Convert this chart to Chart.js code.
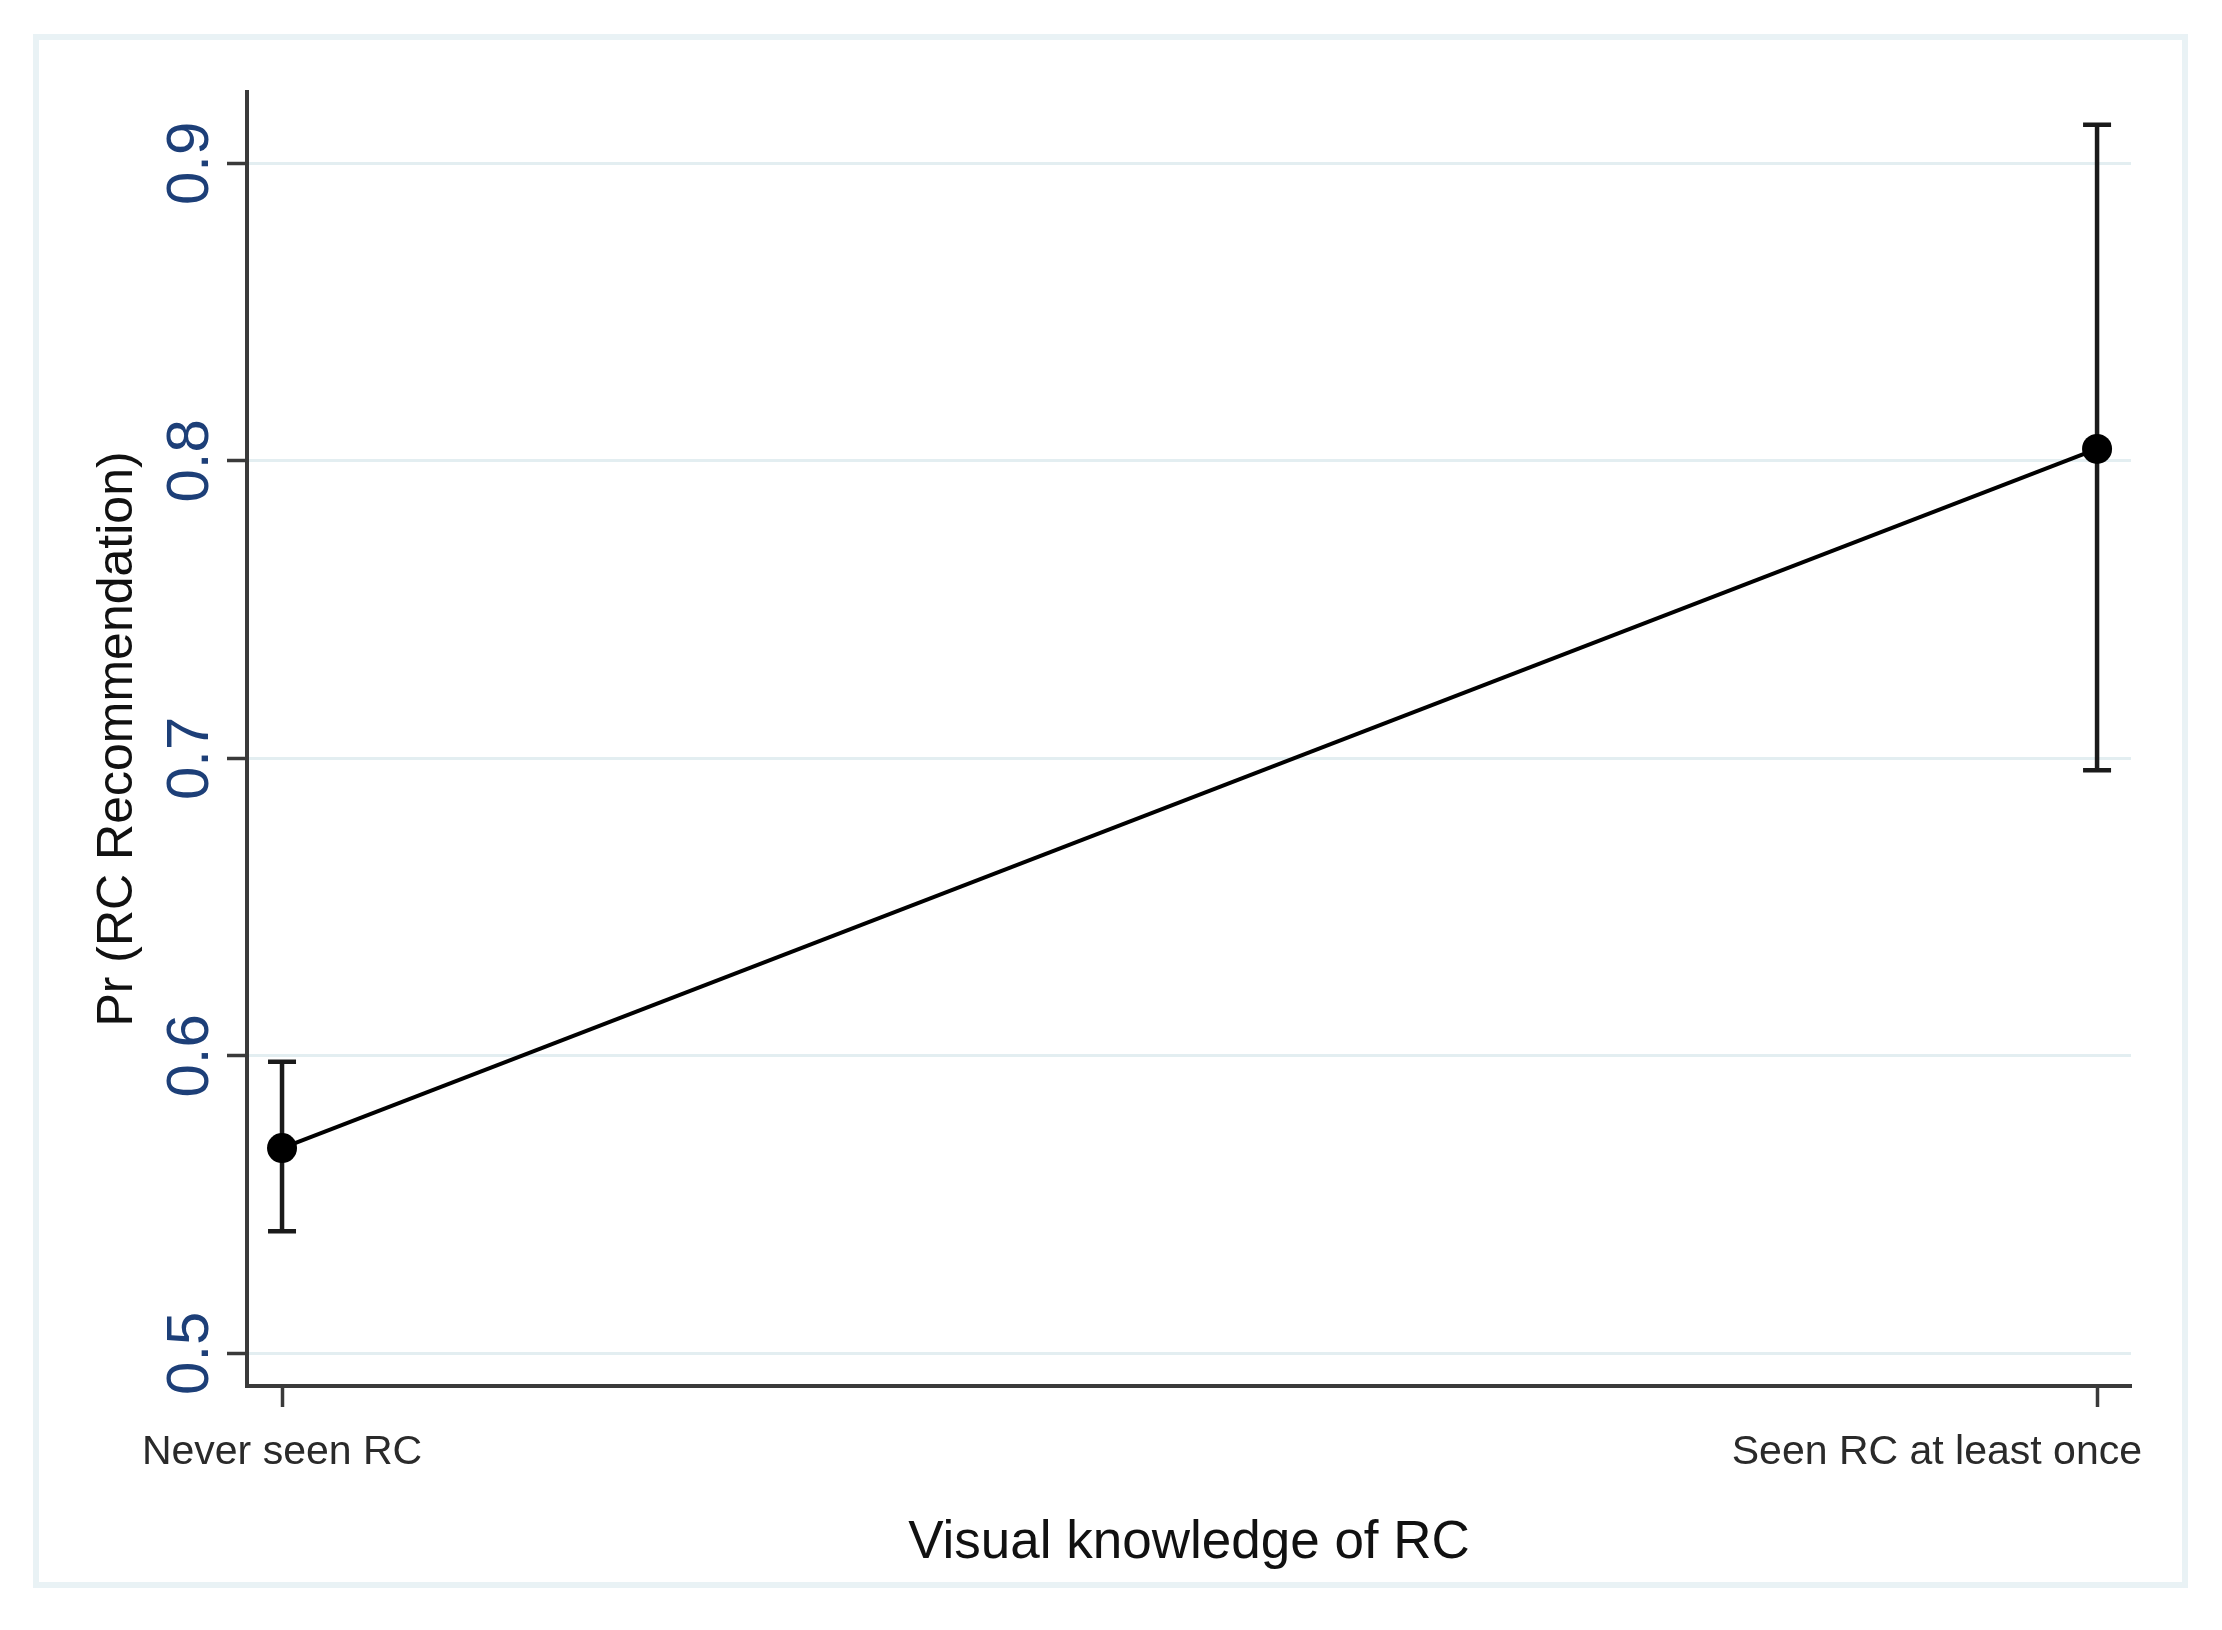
<!DOCTYPE html>
<html lang="en">
<head>
<meta charset="UTF-8">
<title>Pr (RC Recommendation) by visual knowledge of RC</title>
<script src="https://cdn.jsdelivr.net/npm/chart.js"></script>
<style>
  html, body { margin: 0; padding: 0; background: #ffffff; }
  canvas { display: block; }
</style>
</head>
<body>
<canvas id="chart" width="2222" height="1630"></canvas>
<script>
// predictive margins and 95% CIs
const categories = ['Never seen RC', 'Seen RC at least once'];
const margins = [0.569, 0.804];
const ciLow = [0.541, 0.696];
const ciHigh = [0.598, 0.913];
const yTicks = [0.5, 0.6, 0.7, 0.8, 0.9];

const points = categories.map((c, i) => ({ x: i, y: margins[i] }));

const axisColor = '#3a3a3a';
const gridColor = '#e3eef1';
const sans = '"Liberation Sans", Arial, sans-serif';

// white background + pale frame round the graph region
const framePlugin = {
  id: 'frame',
  beforeDraw(chart) {
    const ctx = chart.ctx;
    ctx.save();
    ctx.fillStyle = '#ffffff';
    ctx.fillRect(0, 0, chart.width, chart.height);
    ctx.strokeStyle = '#e9f2f5';
    ctx.lineWidth = 6;
    ctx.strokeRect(36, 37, 2149, 1548);
    ctx.restore();
  }
};

// capped CI bars
const errorBarPlugin = {
  id: 'errorBars',
  beforeDatasetsDraw(chart) {
    const { ctx, scales: { x, y } } = chart;
    ctx.save();
    ctx.strokeStyle = '#1a1a1a';
    ctx.lineWidth = 4.5;
    categories.forEach((c, i) => {
      const px = x.getPixelForValue(i);
      const top = y.getPixelForValue(ciHigh[i]);
      const bot = y.getPixelForValue(ciLow[i]);
      ctx.beginPath();
      ctx.moveTo(px, top); ctx.lineTo(px, bot);
      ctx.moveTo(px - 14, top); ctx.lineTo(px + 14, top);
      ctx.moveTo(px - 14, bot); ctx.lineTo(px + 14, bot);
      ctx.stroke();
    });
    ctx.restore();
  }
};

// rotated y tick labels and x category labels (kept inside the plot on the right)
const tickLabelPlugin = {
  id: 'tickLabels',
  afterDraw(chart) {
    const { ctx, chartArea, scales: { x, y } } = chart;
    ctx.save();
    ctx.font = '60px "Liberation Sans Narrow", "Liberation Sans", sans-serif';
    ctx.fillStyle = '#1d3f78';
    ctx.textAlign = 'center';
    ctx.textBaseline = 'alphabetic';
    y.ticks.forEach(t => {
      ctx.save();
      ctx.translate(chartArea.left - 39, y.getPixelForValue(t.value));
      ctx.rotate(-Math.PI / 2);
      ctx.fillText(t.value.toFixed(1), 0, 0);
      ctx.restore();
    });

    ctx.font = '41px ' + sans;
    ctx.fillStyle = '#2a2a2a';
    categories.forEach((c, i) => {
      const w = ctx.measureText(c).width;
      const px = Math.min(x.getPixelForValue(i), chartArea.right + 11 - w / 2);
      ctx.fillText(c, px, chartArea.bottom + 78);
    });
    ctx.restore();
  }
};

new Chart(document.getElementById('chart'), {
  type: 'line',
  data: {
    datasets: [{
      data: points,
      borderColor: '#000000',
      borderWidth: 4,
      pointRadius: 15,
      pointBackgroundColor: '#000000',
      pointBorderWidth: 0,
      tension: 0,
      fill: false
    }]
  },
  options: {
    responsive: false,
    animation: false,
    devicePixelRatio: 1,
    layout: { padding: { top: 92, right: 91, bottom: 0, left: 0 } },
    plugins: { legend: { display: false }, tooltip: { enabled: false } },
    scales: {
      x: {
        type: 'linear',
        min: -0.0193,
        max: 1.0187,
        afterBuildTicks: s => { s.ticks = categories.map((c, i) => ({ value: i })); },
        afterFit: s => { s.height = 244; },
        ticks: { display: false },
        grid: { drawOnChartArea: false, drawTicks: true, tickLength: 21, tickColor: axisColor, tickWidth: 3.5 },
        border: { display: true, color: axisColor, width: 4 },
        title: {
          display: true,
          text: 'Visual knowledge of RC',
          color: '#111111',
          font: { family: sans, size: 53, lineHeight: 1 },
          padding: { top: 0, bottom: 60 }
        }
      },
      y: {
        min: 0.489,
        max: 0.924,
        afterBuildTicks: s => { s.ticks = yTicks.map(v => ({ value: v })); },
        afterFit: s => { s.width = 247; },
        ticks: { display: false },
        grid: { color: gridColor, lineWidth: 3, drawTicks: true, tickLength: 20, tickColor: axisColor, tickWidth: 3.5 },
        border: { display: true, color: axisColor, width: 4 },
        title: {
          display: true,
          text: 'Pr (RC Recommendation)',
          color: '#111111',
          font: { family: sans, size: 50, lineHeight: 1 },
          padding: { top: 93, bottom: 0 }
        }
      }
    }
  },
  plugins: [framePlugin, errorBarPlugin, tickLabelPlugin]
});
</script>
</body>
</html>
